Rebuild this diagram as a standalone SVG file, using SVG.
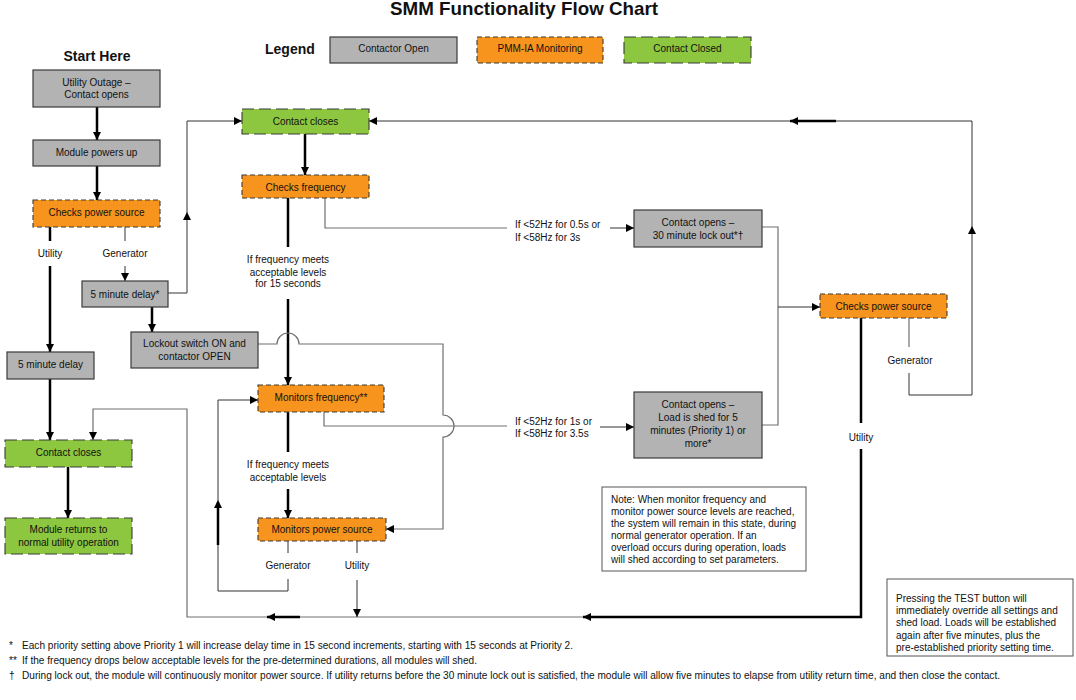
<svg xmlns="http://www.w3.org/2000/svg" width="1076" height="700" viewBox="0 0 1076 700">
<style>
text{font-family:"Liberation Sans",Arial,sans-serif;font-size:10px;fill:#111}
.c{text-anchor:middle}
.b{font-weight:bold}
.gray{fill:#b3b3b3;stroke:#3a3a3a;stroke-width:1.2}
.org{fill:#f7941d;stroke:#3a3a3a;stroke-width:1.1;stroke-dasharray:5 3}
.grn{fill:#8dc63f;stroke:#3a3a3a;stroke-width:1.1;stroke-dasharray:12 5}
.note{fill:#fff;stroke:#555;stroke-width:1}
.thick{fill:none;stroke:#000;stroke-width:2.5}
.thin{fill:none;stroke:#333;stroke-width:1}
.gl{fill:none;stroke:#707070;stroke-width:1.2}
.arr{marker-end:url(#ah)}
</style>
<defs>
<marker id="ah" viewBox="0 0 10 10" refX="10" refY="5" markerWidth="9" markerHeight="8" markerUnits="userSpaceOnUse" orient="auto">
<path d="M0,0 L10,5 L0,10 z" fill="#000"/>
</marker>
</defs>
<rect width="1076" height="700" fill="#fff"/>
<text x="524" y="15" class="c b" style="font-size:19px" textLength="268" lengthAdjust="spacingAndGlyphs">SMM Functionality Flow Chart</text>
<text x="97" y="61" class="c b" style="font-size:14px">Start Here</text>
<text x="265" y="54" class="b" style="font-size:14px">Legend</text>

<g id="legend-open"><rect x="330" y="37" width="127" height="26" class="gray"/><text x="393.5" y="51.5" class="c">Contactor Open</text></g>
<g id="legend-monitoring"><rect x="477" y="37" width="126" height="26" class="org"/><text x="540" y="51.5" class="c">PMM-IA Monitoring</text></g>
<g id="legend-closed"><rect x="624" y="37" width="127" height="26" class="grn"/><text x="687.5" y="51.5" class="c">Contact Closed</text></g>

<g id="connectors">
<path d="M97,107 V140" class="thick arr"/>
<path d="M97,166 V200" class="thick arr"/>
<path d="M50,227 V241" class="thick"/>
<path d="M50,266 V352" class="thick arr"/>
<path d="M50,379 V440" class="thick arr"/>
<path d="M68,467 V518" class="thick arr"/>
<path d="M125,227 V241" class="thin"/>
<path d="M125,266 V281" class="thin arr"/>
<path d="M168,293 H187 V212" class="thin arr"/>
<path d="M187,212 V121 H242" class="thin arr"/>
<path d="M152,307 V332" class="thick arr"/>
<path d="M305,134 V175" class="thick arr"/>
<path d="M288,198 V247" class="thick"/>
<path d="M288,299 V385" class="thick arr"/>
<path d="M325,198 V228 H507" class="gl"/>
<path d="M610,228 H634" class="thin arr"/>
<path d="M762,227 H778 V425 H762" class="gl"/>
<path d="M778,307 H820" class="thin arr"/>
<path d="M861,318 V423" class="thick"/>
<path d="M861,449 V617 H583" class="thick arr"/>
<path d="M583,617 H267" class="gl arr"/>
<path d="M267,617 H300" class="thick"/>
<path d="M267,617 H187 V409 H93 V440" class="gl arr"/>
<path d="M909,318 V347" class="gl"/>
<path d="M909,373 V395 H972 V226" class="thin arr"/>
<path d="M972,226 V121 H790" class="thin arr"/>
<path d="M790,121 H836" class="thick"/>
<path d="M790,121 H369" class="thin arr"/>
<path d="M258,344 H277 A11,11 0 0 1 299,344 H443 V415 A11,11 0 0 1 443,437 V529 H386" class="gl arr"/>
<path d="M288,412 V452" class="thick"/>
<path d="M288,489 V518" class="thick arr"/>
<path d="M324,412 V426 H507" class="gl"/>
<path d="M600,427 H634" class="thin arr"/>
<path d="M288,541 V553" class="thin"/>
<path d="M288,579 V591 H218 V500" class="thin arr"/>
<path d="M218,545 V502" class="thick"/>
<path d="M218,500 V400 H258" class="thin arr"/>
<path d="M357,541 V553" class="thin"/>
<path d="M357,580 V617" class="thin arr"/>
</g>

<g id="labels">
<text x="50" y="257" class="c">Utility</text>
<text x="125" y="257" class="c">Generator</text>
<text x="288" y="263" class="c">If frequency meets</text>
<text x="288" y="276" class="c">acceptable levels</text>
<text x="288" y="287" class="c">for 15 seconds</text>
<text x="515" y="228">If &lt;52Hz for 0.5s or</text>
<text x="515" y="241">If &lt;58Hz for 3s</text>
<text x="515" y="425">If &lt;52Hz for 1s or</text>
<text x="515" y="437">If &lt;58Hz for 3.5s</text>
<text x="288" y="468" class="c">If frequency meets</text>
<text x="288" y="481" class="c">acceptable levels</text>
<text x="288" y="569" class="c">Generator</text>
<text x="357" y="569" class="c">Utility</text>
<text x="910" y="364" class="c">Generator</text>
<text x="861" y="441" class="c">Utility</text>
</g>

<g id="utility-outage"><rect x="33" y="70" width="127" height="37" class="gray"/><text x="96.5" y="86" class="c">Utility Outage –</text><text x="96.5" y="98" class="c">Contact opens</text></g>
<g id="module-powers-up"><rect x="33" y="140" width="127" height="26" class="gray"/><text x="96.5" y="156" class="c">Module powers up</text></g>
<g id="checks-power-source-1"><rect x="33" y="200" width="127" height="27" class="org"/><text x="96.5" y="216" class="c">Checks power source</text></g>
<g id="five-minute-delay-star"><rect x="82" y="281" width="86" height="26" class="gray"/><text x="125" y="297.5" class="c">5 minute delay*</text></g>
<g id="lockout-switch"><rect x="131" y="332" width="127" height="36" class="gray"/><text x="194.5" y="347" class="c">Lockout switch ON and</text><text x="194.5" y="360" class="c">contactor OPEN</text></g>
<g id="five-minute-delay"><rect x="7" y="352" width="87" height="27" class="gray"/><text x="50.5" y="367.5" class="c">5 minute delay</text></g>
<g id="contact-closes-left"><rect x="5" y="440" width="127" height="27" class="grn"/><text x="68.5" y="455.5" class="c">Contact closes</text></g>
<g id="module-returns"><rect x="5" y="518" width="127" height="36" class="grn"/><text x="68.5" y="533" class="c">Module returns to</text><text x="68.5" y="546" class="c">normal utility operation</text></g>
<g id="contact-closes-mid"><rect x="242" y="109" width="127" height="25" class="grn"/><text x="305.5" y="125" class="c">Contact closes</text></g>
<g id="checks-frequency"><rect x="242" y="175" width="127" height="23" class="org"/><text x="305.5" y="190.5" class="c">Checks frequency</text></g>
<g id="monitors-frequency"><rect x="258" y="385" width="126" height="27" class="org"/><text x="321" y="401" class="c">Monitors frequency**</text></g>
<g id="monitors-power-source"><rect x="258" y="518" width="128" height="23" class="org"/><text x="322" y="533" class="c">Monitors power source</text></g>
<g id="contact-opens-lockout"><rect x="634" y="210" width="128" height="37" class="gray"/><text x="698" y="226" class="c">Contact opens –</text><text x="698" y="239" class="c">30 minute lock out*†</text></g>
<g id="contact-opens-shed"><rect x="634" y="392" width="128" height="66" class="gray"/><text x="698" y="407.5" class="c">Contact opens –</text><text x="698" y="420.5" class="c">Load is shed for 5</text><text x="698" y="433.5" class="c">minutes (Priority 1) or</text><text x="698" y="446.5" class="c">more*</text></g>
<g id="checks-power-source-2"><rect x="820" y="294" width="127" height="24" class="org"/><text x="883.5" y="309.5" class="c">Checks power source</text></g>

<g id="note">
<rect x="602" y="487" width="204" height="84" class="note"/>
<text x="611" y="502.5">Note: When monitor frequency and</text>
<text x="611" y="514.5">monitor power source levels are reached,</text>
<text x="611" y="526.5">the system will remain in this state, during</text>
<text x="611" y="538.5">normal generator operation. If an</text>
<text x="611" y="550.5">overload occurs during operation, loads</text>
<text x="611" y="562.5">will shed according to set parameters.</text>
</g>
<g id="test-note">
<rect x="887" y="579" width="186" height="77" class="note"/>
<text x="896" y="602">Pressing the TEST button will</text>
<text x="896" y="614">immediately override all settings and</text>
<text x="896" y="626">shed load. Loads will be established</text>
<text x="896" y="638.5">again after five minutes, plus the</text>
<text x="896" y="651">pre-established priority setting time.</text>
</g>

<g id="footnotes">
<text x="9" y="649">*</text>
<text x="22" y="649" textLength="551" lengthAdjust="spacingAndGlyphs">Each priority setting above Priority 1 will increase delay time in 15 second increments, starting with 15 seconds at Priority 2.</text>
<text x="9" y="664">**</text>
<text x="22" y="664" textLength="455" lengthAdjust="spacingAndGlyphs">If the frequency drops below acceptable levels for the pre-determined durations, all modules will shed.</text>
<text x="9" y="679">†</text>
<text x="22" y="679" textLength="978" lengthAdjust="spacingAndGlyphs">During lock out, the module will continuously monitor power source. If utility returns before the 30 minute lock out is satisfied, the module will allow five minutes to elapse from utility return time, and then close the contact.</text>
</g>
</svg>
